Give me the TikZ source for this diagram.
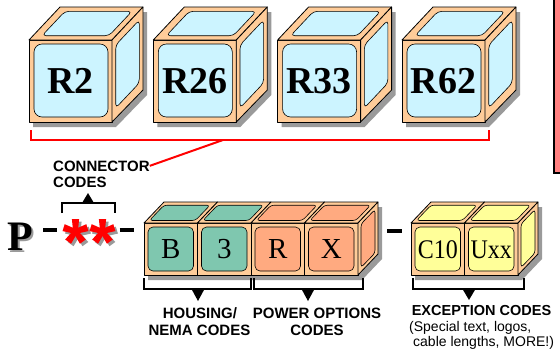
\documentclass[tikz,border=0pt]{standalone}
\usepackage{fontspec}
\setmainfont{Liberation Serif}
\setsansfont{Liberation Sans}
\definecolor{peach}{HTML}{FFCC99}
\definecolor{cubeblue}{HTML}{CCF4FF}
\definecolor{tealc}{HTML}{7FC7AF}
\definecolor{salmon}{HTML}{FFAA80}
\definecolor{yellowc}{HTML}{FFFF99}
\definecolor{shadowgrey}{HTML}{9A9A9A}
\definecolor{pinkbox}{HTML}{FF8080}
\tikzset{
  edge/.style={draw=black,line width=0.8pt,line join=round},
  panel/.style={draw=black,line width=0.6pt,line join=round},
  shade/.style={fill=shadowgrey},
  toplabel/.style={font=\fontsize{38}{38}\selectfont\bfseries,inner sep=0pt,anchor=base},
  blocklabel/.style={font=\fontsize{29}{29}\selectfont,inner sep=0pt,anchor=base},
  smalllabel/.style={font=\fontsize{24}{24}\selectfont,inner sep=0pt,anchor=base},
  caption/.style={font=\sffamily\bfseries\fontsize{15}{15}\selectfont,inner sep=0pt,anchor=base},
  note/.style={font=\sffamily\fontsize{14}{14}\selectfont,inner sep=0pt,anchor=base west},
  bracket/.style={draw=black,line width=2pt},
  redline/.style={draw=red,line width=2.5pt},
  dashbar/.style={draw=black,line width=4.5pt},
}
% top cube: #1 = x offset
\newcommand\mytopcube[1]{%
  \begin{scope}[shift={(#1,0)}]
    \fill[shade] (4,45)--(35,12)--(118,12)--(118,95)--(87,127)--(4,127)--cycle;
    \filldraw[edge,fill=peach] (0,40) rectangle (83,122);
    \filldraw[edge,fill=peach] (0,40)--(31,7)--(114,7)--(83,40)--cycle;
    \filldraw[edge,fill=peach] (83,40)--(114,7)--(114,90)--(83,122)--cycle;
    \filldraw[panel,fill=cubeblue,rounded corners=8pt] (5,44) rectangle (79,117);
    \filldraw[panel,fill=cubeblue,rounded corners=4pt] (13,35.7)--(36,11.3)--(103,11.3)--(80,35.7)--cycle;
    \filldraw[panel,fill=cubeblue,rounded corners=4pt] (86.7,45)--(110.3,20)--(110.3,83)--(86.7,108)--cycle;
  \end{scope}}
% bottom block: #1 = x offset, #2 = inner colour
\newcommand\myblock[2]{%
  \begin{scope}[shift={(#1,0)}]
    \filldraw[edge,fill=peach] (0,223) rectangle (53.5,275);
    \filldraw[edge,fill=peach] (0,223)--(20,202)--(73.5,202)--(53.5,223)--cycle;
    \filldraw[panel,fill=#2,rounded corners=5pt] (4,227) rectangle (49.5,271);
    \filldraw[panel,fill=#2,rounded corners=3pt] (5.4,220.5)--(20,205.2)--(66,205.2)--(51.4,220.5)--cycle;
  \end{scope}}
% side face at end of a block row: #1 = x of front right edge, #2 = inner colour
\newcommand\myside[2]{%
  \begin{scope}[shift={(#1,0)}]
    \filldraw[edge,fill=peach] (0,223)--(20,202)--(20,254)--(0,275)--cycle;
    \filldraw[panel,fill=#2,rounded corners=3pt] (3,224)--(17,209.5)--(17,253)--(3,267.5)--cycle;
  \end{scope}}
% shadow under a block row: #1 = left x, #2 = right x of front
\newcommand\myrowshadow[2]{%
  \fill[shade] (#1+4,228)--(#1+24,207)--(#2+24,207)--(#2+24,259)--(#2+4,280)--(#1+4,280)--cycle;}
% asterisk: #1,#2 centre, #3 colour
\newcommand\myast[3]{%
  \fill[#3] (#1,#2) circle (3.2);
  \foreach \a in {-90,-18,-162,54,126}{%
    \begin{scope}[shift={(#1,#2)},rotate=-\a]
      \fill[#3] (0,-2.4)--(12.5,-3.6)--(12.5,3.6)--(0,2.4)--cycle;
    \end{scope}}}
\begin{document}
\begin{tikzpicture}[x=1pt,y=-1pt]
\useasboundingbox (0,0) rectangle (560,354);
\clip (0,0) rectangle (560,354);

% pink box at right edge
\filldraw[draw=black,line width=2pt,fill=pinkbox] (554,-5) rectangle (575,172.5);

% top cubes
\mytopcube{29}
\mytopcube{153.3}
\mytopcube{277.6}
\mytopcube{402}
\node[toplabel] (r2) at (70.5,93) {R2};
\node[toplabel] (r26) at (194.8,93) {R26};
\node[toplabel] (r33) at (319.1,93) {R33};
\node[toplabel] (r62) at (443.5,93) {R62};

% red bracket and connector
\draw[redline,line join=miter] (31,130)--(31,140)--(489,140)--(489,130);
\coordinate (brk) at (223,140);
\node[caption,anchor=base west] (conn1) at (53,171) {CONNECTOR};
\node[caption,anchor=base west] (conn2) at (53,187) {CODES};
\draw[draw=red,line width=2pt] (brk) -- (conn1.east);

% connector codes bracket
\draw[bracket] (62,213)--(62,203)--(115,203)--(115,213);
\fill (82,203)--(88,193)--(94,203)--cycle;

% P, dashes, asterisks
\fill[shadowgrey] (9.5,252) node[font=\fontsize{42}{42}\selectfont\bfseries,inner sep=0pt,anchor=base west,text=shadowgrey] {P};
\node[font=\fontsize{42}{42}\selectfont\bfseries,inner sep=0pt,anchor=base west] (p) at (7,250) {P};
\draw[dashbar] (43,230)--(57,230);
\draw[dashbar] (119.5,230)--(133.5,230);
\myast{78}{234}{shadowgrey}
\myast{105}{234}{shadowgrey}
\myast{75.5}{231.5}{red}
\myast{102.5}{231.5}{red}
\draw[dashbar] (387,231)--(402,231);

% bottom block rows
\myrowshadow{144}{358}
\myrowshadow{411}{518}
\myblock{144}{tealc}
\myblock{197.5}{tealc}
\myblock{251}{salmon}
\myblock{304.5}{salmon}
\myside{358}{salmon}
\myblock{411}{yellowc}
\myblock{464.5}{yellowc}
\myside{518}{yellowc}
\node[blocklabel] (b) at (170.75,258) {B};
\node[blocklabel] (three) at (224.25,258) {3};
\node[blocklabel] (r) at (277.75,258) {R};
\node[blocklabel] (x) at (331.25,258) {X};
\node[smalllabel] (c10) at (437.75,258) {\scalebox{1}[1.12]{C10}};
\node[smalllabel] (uxx) at (491.25,258) {\scalebox{1}[1.12]{Uxx}};

% lower brackets
\draw[bracket] (144,278)--(144,289)--(251,289)--(251,278);
\fill (191.5,289)--(198,301)--(204.5,289)--cycle;
\draw[bracket] (254,278)--(254,289)--(363,289)--(363,278);
\fill (301.5,289)--(308,301)--(314.5,289)--cycle;
\draw[bracket] (413,278)--(413,289)--(524,289)--(524,278);
\fill (462.5,289)--(469,300)--(475.5,289)--cycle;

% captions
\node[caption] (hous1) at (200,318) {HOUSING/};
\node[caption] (hous2) at (199.5,335) {NEMA CODES};
\node[caption] (pow1) at (317,318) {POWER OPTIONS};
\node[caption] (pow2) at (317,335) {CODES};
\node[caption,font=\sffamily\bfseries\fontsize{14.5}{14.5}\selectfont] (exc) at (481.5,315) {EXCEPTION CODES};
\node[note] (exc2) at (409,331) {(Special text, logos,};
\node[note] (exc3) at (413,346) {cable lengths, MORE!)};
\end{tikzpicture}
\end{document}
